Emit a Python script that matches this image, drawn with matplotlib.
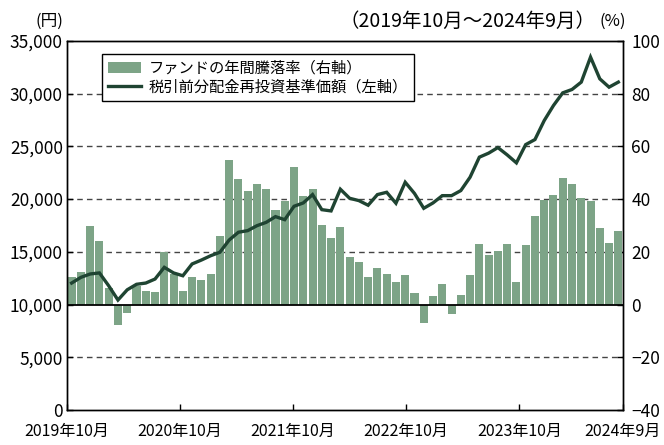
import matplotlib.pyplot as plt
import numpy as np
from matplotlib.font_manager import fontManager

# fonts: narrow latin digits if available, CJK fallback
names = {f.name for f in fontManager.ttflist}
fams = [f for f in ['Liberation Sans Narrow', 'Noto Sans CJK JP', 'DejaVu Sans'] if f in names]
plt.rcParams['font.family'] = fams

# monthly data 2019/10 - 2024/9
months = [f'{y}年{m}月' for y in range(2019, 2025) for m in range(1, 13)][9:69]

returns = [10.4, 12.2, 29.8, 24.0, 6.1, -7.9, -3.3, 7.0, 5.3, 4.6,
           19.8, 11.5, 5.3, 10.4, 9.5, 11.5, 26.0, 55.0, 47.7, 43.1,
           45.8, 43.9, 35.9, 39.3, 52.3, 41.2, 43.9, 30.2, 25.2, 29.4,
           17.9, 16.0, 10.3, 13.7, 11.5, 8.5, 11.1, 4.3, -7.0, 3.2,
           7.7, -3.6, 3.6, 11.2, 23.0, 18.8, 20.3, 23.0, 8.5, 22.6,
           33.6, 39.7, 41.6, 48.0, 45.8, 40.5, 39.3, 29.0, 23.3, 27.8]

nav = [12040, 12580, 12900, 13000, 11780, 10430, 11400, 11920, 12040, 12420,
       13530, 13000, 12730, 13850, 14220, 14630, 14960, 16120, 16860, 17010,
       17480, 17800, 18340, 18050, 19320, 19640, 20430, 19000, 18880, 20940,
       20080, 19860, 19420, 20430, 20650, 19610, 21600, 20540, 19130, 19640,
       20330, 20330, 20810, 22080, 23980, 24360, 24890, 24200, 23440, 25170,
       25650, 27450, 28880, 30080, 30400, 31100, 33470, 31410, 30620, 31100]

tick_labels = ['2019年10月', '2020年10月', '2021年10月', '2022年10月', '2023年10月', '2024年9月']
tick_months = [0, 12, 24, 36, 48, 59]

bar_color = '#7da487'
line_color = '#1f4432'

fig = plt.figure(figsize=(6.64, 4.45), dpi=100)
ax = fig.add_axes([0.1009, 0.0787, 0.8373, 0.8292])
ax2 = ax.twinx()
ax.set_zorder(ax2.get_zorder() + 1)
ax.patch.set_visible(False)

x = np.arange(len(months))

# bars (right axis)
ax2.bar(x, returns, width=0.87, color=bar_color, zorder=2, label='ファンドの年間騰落率（右軸）')
ax2.set_ylim(-40, 100)
ax2.set_yticks(range(-40, 101, 20))
ax2.set_yticklabels([('−' + str(-v)) if v < 0 else str(v) for v in range(-40, 101, 20)])
for v in [-20, 20, 40, 60, 80]:
    ax2.axhline(v, color='#444444', lw=1.0, ls=(0, (4, 3)), zorder=1)
ax2.axhline(0, color='black', lw=1.3, zorder=3)

# line (left axis)
ax.plot(x, nav, color=line_color, lw=2.4, solid_joinstyle='miter',
        label='税引前分配金再投資基準価額（左軸）')
ax.set_ylim(0, 35000)
ax.set_yticks(range(0, 35001, 5000))
ax.set_yticklabels([f'{v:,}' for v in range(0, 35001, 5000)])

ax.set_xlim(-0.5, 59.5)
ax.set_xticks([-0.5 + 60 * m / 59 for m in tick_months])
ax.set_xticklabels(tick_labels)

for a in (ax, ax2):
    a.tick_params(direction='in', length=4, width=1, labelsize=12.5, pad=3)
    for s in a.spines.values():
        s.set_linewidth(1.0)
ax2.tick_params(axis='y', pad=6)
ax.tick_params(axis='x', pad=9, labelsize=11.5)

h1, l1 = ax2.get_legend_handles_labels()
h2, l2 = ax.get_legend_handles_labels()
leg = ax.legend(h1 + h2, l1 + l2, loc='upper left', bbox_to_anchor=(0.05, 0.985),
                fancybox=False, framealpha=1, edgecolor='black', fontsize=11,
                handlelength=2.2, borderpad=0.35, labelspacing=0.15, handletextpad=0.5)
leg.get_frame().set_linewidth(1.0)

fig.text(0.074, 0.952, '(円)', fontsize=12, ha='center', va='center')
fig.text(0.897, 0.952, '（2019年10月～2024年9月）', fontsize=14, ha='right', va='center')
fig.text(0.903, 0.952, '(%)', fontsize=12, ha='left', va='center')

fig.savefig('out.png', dpi=100)
